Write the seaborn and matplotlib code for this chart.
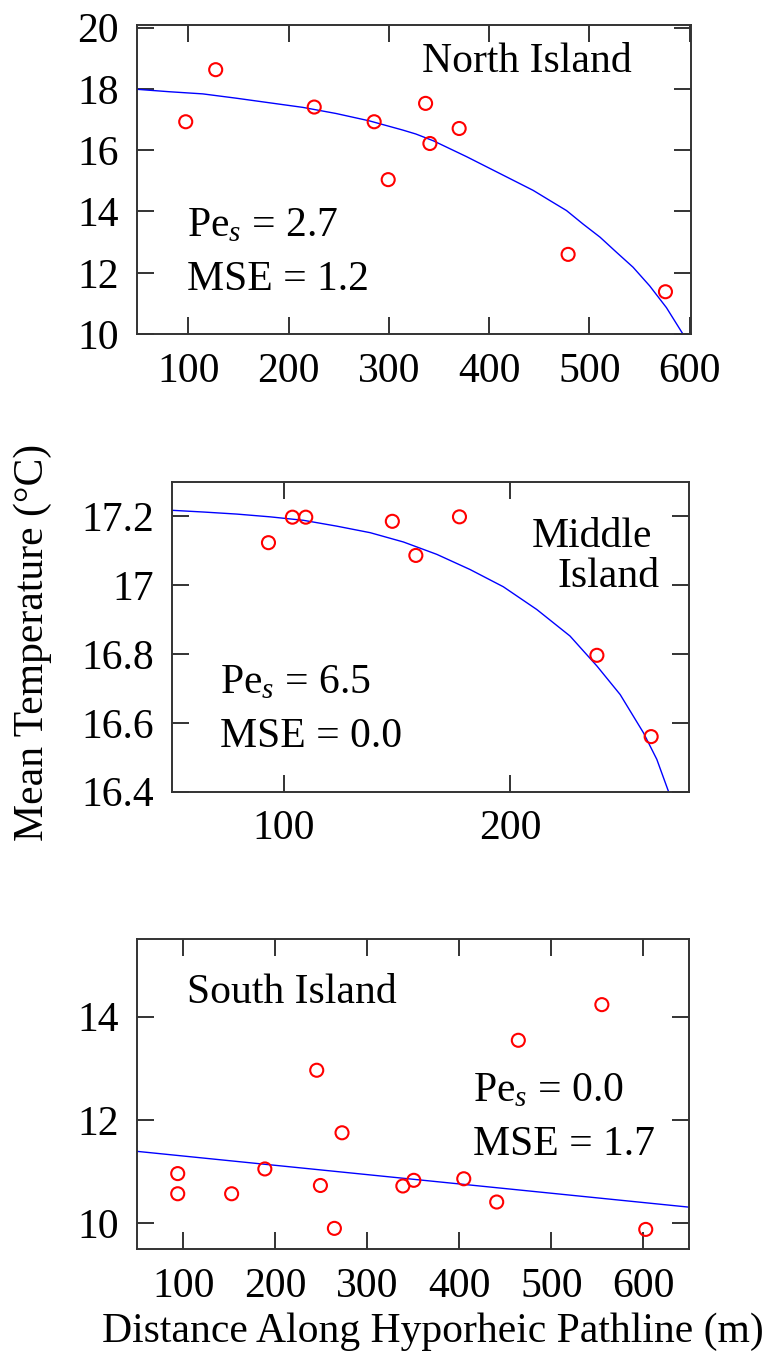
import matplotlib
matplotlib.use("Agg")
import matplotlib.pyplot as plt
import seaborn as sns
import pandas as pd

# ---------------- data ----------------
# North Island
north_x = [97.4, 127.3, 225.6, 285.4, 299.4, 336.7, 341.0, 370.2, 478.9, 576.0]
north_y = [16.93, 18.63, 17.41, 16.93, 15.04, 17.53, 16.22, 16.71, 12.60, 11.38]
north_fit_x = [48.5, 81.1, 114.4, 147.6, 180.8, 214.1, 247.3, 280.5, 313.8, 327.0,
               344.3, 377.6, 410.8, 444.0, 460.6, 477.3, 493.8, 510.8, 527.1,
               543.7, 560.3, 577.0, 593.6]
north_fit_y = [17.99, 17.91, 17.84, 17.70, 17.55, 17.40, 17.20, 16.96, 16.66, 16.53,
               16.31, 15.79, 15.24, 14.69, 14.36, 14.03, 13.59, 13.16, 12.67,
               12.18, 11.57, 10.86, 9.99]

# Middle Island
middle_x = [93.1, 103.7, 109.6, 147.9, 158.3, 177.6, 238.4, 262.4]
middle_y = [17.123, 17.197, 17.197, 17.185, 17.086, 17.198, 16.796, 16.560]
middle_fit_x = [50.3, 64.3, 79.1, 93.8, 108.5, 123.3, 138.1, 152.8, 167.6, 182.3,
                197.0, 211.8, 226.5, 238.4, 248.7, 259.0, 264.9, 270.0]
middle_fit_y = [17.217, 17.212, 17.206, 17.198, 17.188, 17.171, 17.152, 17.125,
                17.089, 17.045, 16.995, 16.929, 16.852, 16.765, 16.682, 16.571,
                16.494, 16.402]

# South Island
south_x = [93.9, 93.9, 152.5, 188.6, 245.0, 249.0, 264.2, 272.5, 338.6, 350.5,
           404.8, 440.6, 464.1, 554.9, 602.6]
south_y = [10.96, 10.57, 10.57, 11.05, 12.96, 10.73, 9.90, 11.75, 10.72, 10.83,
           10.86, 10.41, 13.54, 14.23, 9.88]
south_fit_x = [50, 650]
south_fit_y = [11.39, 10.31]

north_xticks = [100, 200, 300, 400, 500, 600]
north_yticks = [10, 12, 14, 16, 18, 20]
middle_xticks = [100, 200]
middle_yticks = [16.4, 16.6, 16.8, 17.0, 17.2]
middle_yticklabels = ["16.4", "16.6", "16.8", "17", "17.2"]
south_xticks = [100, 200, 300, 400, 500, 600]
south_yticks = [10, 12, 14]

# ---------------- style ----------------
sns.set_style("ticks")
FONT = "Liberation Serif"
plt.rcParams["font.family"] = [FONT, "DejaVu Serif"]
plt.rcParams["mathtext.fontset"] = "custom"
plt.rcParams["mathtext.rm"] = FONT
plt.rcParams["mathtext.it"] = FONT + ":italic"
plt.rcParams["text.color"] = "black"
FS = 30

fig = plt.figure(figsize=(7.68, 13.55), dpi=100)

ax1 = fig.add_axes([0.1780, 0.7535, 0.7211, 0.2283])
ax2 = fig.add_axes([0.2236, 0.4157, 0.6740, 0.2288])
ax3 = fig.add_axes([0.1788, 0.0782, 0.7188, 0.2288])

def draw(ax, px, py, fx, fy):
    pts = pd.DataFrame({"x": px, "y": py})
    fit = pd.DataFrame({"x": fx, "y": fy})
    sns.lineplot(data=fit, x="x", y="y", ax=ax, color="#0000ff", lw=1.0,
                 sort=False, estimator=None, zorder=2)
    sns.scatterplot(data=pts, x="x", y="y", ax=ax, marker="o", s=88,
                    facecolors="none", edgecolor="#ff0000", linewidth=1.5,
                    zorder=3)
    ax.set_xlabel("")
    ax.set_ylabel("")
    for sp in ax.spines.values():
        sp.set_visible(True)
        sp.set_color("#333333")
        sp.set_linewidth(1.4)
    ax.tick_params(direction="in", length=12, width=1.4, color="#333333",
                   top=True, right=True, labelsize=FS, pad=13,
                   labelcolor="black")

draw(ax1, north_x, north_y, north_fit_x, north_fit_y)
ax1.set_xlim(48.5, 601)
ax1.set_ylim(10, 20.1)
ax1.set_xticks(north_xticks)
ax1.set_yticks(north_yticks)

draw(ax2, middle_x, middle_y, middle_fit_x, middle_fit_y)
ax2.set_xlim(50.3, 279.3)
ax2.set_ylim(16.4, 17.3)
ax2.set_xticks(middle_xticks)
ax2.set_yticks(middle_yticks)
ax2.set_yticklabels(middle_yticklabels)

draw(ax3, south_x, south_y, south_fit_x, south_fit_y)
ax3.set_xlim(50, 650)
ax3.set_ylim(9.5, 15.5)
ax3.set_xticks(south_xticks)
ax3.set_yticks(south_yticks)

for ax in (ax1, ax2, ax3):
    for lab in ax.get_xticklabels() + ax.get_yticklabels():
        lab.set_fontfamily(FONT)

# annotations
def note(ax, x, y, s):
    ax.text(x, y, s, transform=ax.transAxes, fontsize=FS, ha="left",
            va="baseline", color="black")

note(ax1, 0.5146, 0.848, "North Island")
note(ax1, 0.0903, 0.3146, r"Pe$_{s}$ = 2.7")
note(ax1, 0.0903, 0.1423, "MSE = 1.2")

note(ax2, 0.6955, 0.790, "Middle")
note(ax2, 0.745, 0.661, "Island")
note(ax2, 0.0933, 0.317, r"Pe$_{s}$ = 6.5")
note(ax2, 0.0933, 0.145, "MSE = 0.0")

note(ax3, 0.0909, 0.7926, "South Island")
note(ax3, 0.6087, 0.475, r"Pe$_{s}$ = 0.0")
note(ax3, 0.6087, 0.303, "MSE = 1.7")

fig.text(33 / 768, 1 - 642 / 1355, "Mean Temperature (°C)", rotation=90,
         fontsize=FS, ha="center", va="center")
fig.text(433 / 768, 1 - 1342 / 1355, "Distance Along Hyporheic Pathline (m)",
         fontsize=FS, ha="center", va="baseline")

fig.savefig("out.png", dpi=100)
